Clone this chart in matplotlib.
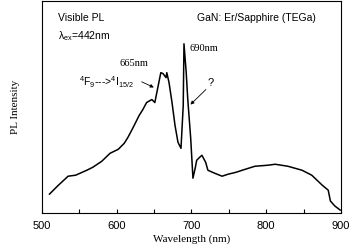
import matplotlib
matplotlib.use("Agg")
import matplotlib.pyplot as plt

# spectrum (nm, arbitrary intensity)
wavelength = [510, 522, 535, 545, 551, 560, 568, 580, 591, 602, 610, 615, 622, 630,
              635, 640, 647, 651, 655, 659, 662, 666, 667, 670, 674, 678, 682, 686,
              689, 690, 693, 695, 699, 702, 705, 707, 711, 714, 719, 722, 731, 741,
              749, 760, 768, 785, 802, 812, 829, 848, 861, 875, 883, 886, 892, 899]
intensity = [19, 28, 37, 38, 40, 43, 46, 52, 60, 64, 70, 76, 86, 98,
             104, 111, 114, 111, 126, 141, 140, 136, 141, 131, 111, 88, 71, 65,
             108, 170, 141, 115, 75, 35, 45, 53, 56, 58, 51, 43, 40, 37,
             39, 41, 43, 47, 48, 49, 47, 43, 38, 28, 23, 12, 7, 3]

xticks = [500, 600, 700, 800, 900]
minor_ticks = [550, 650, 750, 850]

sans = "Liberation Sans"
serif = "Liberation Serif"

fig = plt.figure(figsize=(3.5, 2.46), dpi=100)
ax = fig.add_axes([0.12, 0.134, 0.854, 0.862])

ax.plot(wavelength, intensity, color="black", lw=1.1)

ax.set_xlim(500, 900)
ax.set_ylim(0, 213)
ax.set_xticks(xticks)
ax.set_xticks(minor_ticks, minor=True)
ax.set_xticklabels([str(t) for t in xticks], fontfamily=sans, fontsize=8)
ax.set_yticks([])
ax.tick_params(axis="x", which="both", direction="in", length=3, width=0.8, pad=6)

ax.set_xlabel("Wavelength (nm)", fontfamily=serif, fontsize=8, labelpad=2)
ax.set_ylabel("PL Intensity", fontfamily=serif, fontsize=8, labelpad=16)

ax.text(521, 193, "Visible PL", fontfamily=sans, fontsize=7.5)
ax.text(521, 175, r"$\mathregular{\lambda_{ex}}$=442nm", fontfamily=sans, fontsize=7.5)
ax.text(707, 193, "GaN: Er/Sapphire (TEGa)", fontfamily=sans, fontsize=7.5)
ax.text(604, 148, "665nm", fontfamily=serif, fontsize=7.5)
ax.text(698, 163, "690nm", fontfamily=serif, fontsize=7.5)
ax.text(549, 127, r"$\mathregular{^4}$F$\mathregular{_9}$--->$\mathregular{^4}$I$\mathregular{_{15/2}}$",
        fontfamily=sans, fontsize=7.5)
ax.text(722, 128, "?", fontfamily=sans, fontsize=8)

ax.annotate("", xy=(653, 125), xytext=(630, 133),
            arrowprops=dict(arrowstyle="-|>", color="black", lw=0.6, mutation_scale=5))
ax.annotate("", xy=(696, 107), xytext=(722, 126),
            arrowprops=dict(arrowstyle="-|>", color="black", lw=0.6, mutation_scale=5))

fig.savefig("out.png", dpi=100)
